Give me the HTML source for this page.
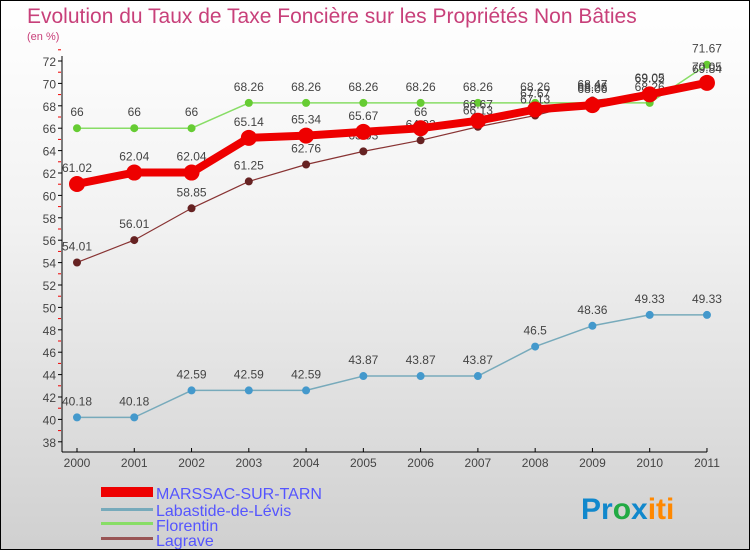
<!DOCTYPE html>
<html><head><meta charset="utf-8"><style>
body{margin:0;font-family:"Liberation Sans",sans-serif}
#c{position:relative;width:748px;height:548px;border:1px solid #000;background:linear-gradient(#fff,#f2f2f2 40%,#d0d0d0)}
</style></head><body>
<div id="c">
<svg width="748" height="548" id="svg">
<text x="26" y="22" font-size="21" fill="#c8407a">Evolution du Taux de Taxe Foncière sur les Propriétés Non Bâties</text>
<text x="26" y="39" font-size="11" fill="#c8407a">(en %)</text>
<g id="axes"></g><g id="series"></g>
<g>
<rect x="100" y="486" width="52" height="10" fill="#e00"/>
<text x="155" y="498" font-size="16" fill="#55f">MARSSAC-SUR-TARN</text>
<rect x="100" y="507" width="52" height="3" fill="#7ab"/>
<text x="155" y="515" font-size="16" fill="#55f">Labastide-de-Lévis</text>
<rect x="100" y="521" width="52" height="3" fill="#8d6"/>
<text x="155" y="530" font-size="16" fill="#55f">Florentin</text>
<rect x="100" y="536" width="52" height="3" fill="#955"/>
<text x="155" y="545" font-size="16" fill="#55f">Lagrave</text>
</g>
<text x="580" y="518" font-size="30" font-weight="bold"><tspan fill="#18c">Pr</tspan><tspan fill="#2a4">o</tspan><tspan fill="#18c">x</tspan><tspan fill="#f80">iti</tspan></text>
</svg></div>
<script>
const years=[2000,2001,2002,2003,2004,2005,2006,2007,2008,2009,2010,2011];
const yTicks=[38,40,42,44,46,48,50,52,54,56,58,60,62,64,66,68,70,72];
const marssac=[61.02,62.04,62.04,65.14,65.34,65.67,66,66.67,67.67,68.06,69.02,70.05];
const labastide=[40.18,40.18,42.59,42.59,42.59,43.87,43.87,43.87,46.5,48.36,49.33,49.33];
const florentin=[66,66,66,68.26,68.26,68.26,68.26,68.26,68.26,68.26,68.26,71.67];
const lagrave=[54.01,56.01,58.85,61.25,62.76,63.93,64.92,66.13,67.13,68.47,69.05,69.84];
const NS="http://www.w3.org/2000/svg";
const x=i=>76+i*57.27, y=v=>60+(72-v)*11.2;
function mk(t,a,p){const e=document.createElementNS(NS,t);for(const k in a)e.setAttribute(k,a[k]);p.appendChild(e);return e;}
const ax=document.getElementById('axes'), se=document.getElementById('series');
let l=mk('line',{x1:61,y1:55,x2:61,y2:451,stroke:'#000'},ax);


l=mk('line',{x1:61,y1:451,x2:706,y2:451,stroke:'#000'},ax);


yTicks.forEach(v=>{
 mk('line',{x1:57,y1:y(v),x2:61,y2:y(v),stroke:'#000'},ax);
 mk('line',{x1:57,y1:y(v)-11.2,x2:60,y2:y(v)-11.2,stroke:'#e00'},ax);
 const t=mk('text',{x:55,y:y(v)+5,'font-size':12,'text-anchor':'end',fill:'#444'},ax);t.textContent=v;
 
 
});
years.forEach((yr,i)=>{
 mk('line',{x1:x(i),y1:447,x2:x(i),y2:451,stroke:'#000'},ax);
 const t=mk('text',{x:x(i),y:466,'font-size':12,'text-anchor':'middle',fill:'#444'},ax);t.textContent=yr;
 
 
});
function draw(d,col,w,r,name,dot){
 const p=mk('polyline',{points:d.map((v,i)=>x(i)+','+y(v)).join(' '),fill:'none',stroke:col,'stroke-width':w,'stroke-linejoin':'round'},se);
 
 
 d.forEach((v,i)=>{
  const c=mk('circle',{cx:x(i),cy:y(v),r:r,fill:dot||col},se);
  
  
  const t=mk('text',{x:x(i),y:y(v)-12,'font-size':12,'text-anchor':'middle',fill:'#444'},se);t.textContent=v;
  
  
 });
}
draw(labastide,'#7ab',1.5,4,'labastide','#49c');
draw(florentin,'#8d6',1.5,4,'florentin','#6c3');
draw(lagrave,'#833',1.2,4,'lagrave','#622');
draw(marssac,'#e00',8,8,'marssac');
</script></body></html>
